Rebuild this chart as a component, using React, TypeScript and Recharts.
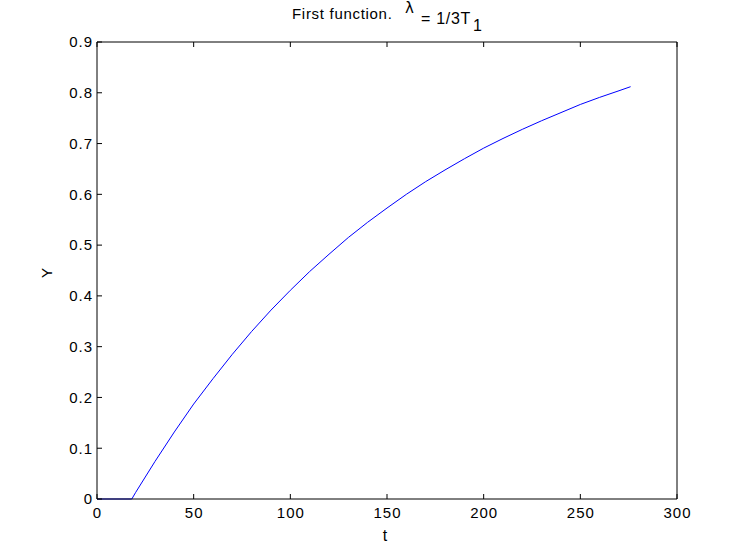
import React from 'react';
import { LineChart, Line, XAxis, YAxis } from 'recharts';

const tValues = [0, 18, 20, 30, 40, 50, 60, 70, 80, 90, 100, 110, 120, 130, 140, 150, 160, 170, 180, 190, 200, 210, 220, 230, 240, 250, 260, 270, 276];
const yValues = [0, 0, 0.013, 0.074, 0.132, 0.187, 0.237, 0.285, 0.33, 0.372, 0.411, 0.448, 0.482, 0.515, 0.545, 0.573, 0.6, 0.625, 0.648, 0.67, 0.691, 0.71, 0.728, 0.745, 0.761, 0.777, 0.791, 0.804, 0.812];
const xTicks = [0, 50, 100, 150, 200, 250, 300];
const yTicks = [0, 0.1, 0.2, 0.3, 0.4, 0.5, 0.6, 0.7, 0.8, 0.9];
const yTickLabels = ['0', '0.1', '0.2', '0.3', '0.4', '0.5', '0.6', '0.7', '0.8', '0.9'];

const data = tValues.map((t, i) => ({ t, y: yValues[i] }));

const FONT = '"Liberation Sans", Arial, sans-serif';
const TICK_LEN = 5;
const LEFT_MARGIN = 4;
const BOTTOM_MARGIN = 8;

const LeftTick = (props: any) => {
  const { x, y, payload } = props;
  const ax = x + LEFT_MARGIN;
  const idx = yTicks.indexOf(payload.value);
  const label = idx >= 0 ? yTickLabels[idx] : String(payload.value);
  return (
    <g>
      <line x1={ax} x2={ax + TICK_LEN} y1={y} y2={y} stroke="#000" strokeWidth={1} />
      <text x={x} y={y} dy="0.355em" textAnchor="end" fontFamily={FONT} fontSize={15} letterSpacing={1} fill="#000">
        {label}
      </text>
    </g>
  );
};

const BottomTick = (props: any) => {
  const { x, y, payload } = props;
  const ay = y - BOTTOM_MARGIN;
  return (
    <g>
      <line x1={x} x2={x} y1={ay} y2={ay - TICK_LEN} stroke="#000" strokeWidth={1} />
      <text x={x + 0.5} y={y} dy="0.71em" textAnchor="middle" fontFamily={FONT} fontSize={15} letterSpacing={1} fill="#000">
        {String(payload.value)}
      </text>
    </g>
  );
};

const TopTick = (props: any) => {
  const { x, y } = props;
  return <line x1={x} x2={x} y1={y} y2={y + TICK_LEN} stroke="#000" strokeWidth={1} />;
};

const RightTick = (props: any) => {
  const { x, y } = props;
  return <line x1={x} x2={x - TICK_LEN} y1={y} y2={y} stroke="#000" strokeWidth={1} />;
};

export default function App() {
  return (
    <div style={{ position: 'absolute', left: 0, top: 0, width: 747, height: 560, background: '#fff' }}>
      <LineChart
        width={747}
        height={560}
        data={data}
        margin={{ top: 41, right: 69, bottom: 31, left: 47 }}
      >
        <XAxis
          xAxisId="b"
          dataKey="t"
          type="number"
          domain={[0, 300]}
          ticks={xTicks}
          height={30}
          stroke="#000"
          tickLine={false}
          tickSize={0}
          tickMargin={BOTTOM_MARGIN}
          tick={BottomTick}
          interval={0}
        />
        <XAxis
          xAxisId="top"
          orientation="top"
          dataKey="t"
          type="number"
          domain={[0, 300]}
          ticks={xTicks}
          height={1}
          stroke="#000"
          tickLine={false}
          tickSize={0}
          tickMargin={0}
          tick={TopTick}
          interval={0}
        />
        <YAxis
          yAxisId="l"
          type="number"
          domain={[0, 0.9]}
          ticks={yTicks}
          width={50}
          stroke="#000"
          tickLine={false}
          tickSize={0}
          tickMargin={LEFT_MARGIN}
          tick={LeftTick}
          interval={0}
        />
        <YAxis
          yAxisId="r"
          orientation="right"
          type="number"
          domain={[0, 0.9]}
          ticks={yTicks}
          width={1}
          stroke="#000"
          tickLine={false}
          tickSize={0}
          tickMargin={0}
          tick={RightTick}
          interval={0}
        />
        <Line
          xAxisId="b"
          yAxisId="l"
          dataKey="y"
          type="linear"
          stroke="#0000ff"
          strokeWidth={1}
          dot={false}
          isAnimationActive={false}
        />
      </LineChart>
      <svg width={747} height={560} style={{ position: 'absolute', left: 0, top: 0, pointerEvents: 'none' }}>
        <text fontFamily={FONT} fill="#000" letterSpacing={0.7}>
          <tspan x={292} y={19} fontSize={15}>First function.</tspan>
          <tspan x={405} y={13} fontSize={15} fontFamily='"DejaVu Sans", sans-serif' letterSpacing={0}>λ</tspan>
          <tspan x={421} y={24} fontSize={16}>= 1/3T</tspan>
          <tspan x={473} y={31} fontSize={16}>1</tspan>
        </text>
        <text x={385} y={541} textAnchor="middle" fontFamily={FONT} fontSize={16} fill="#000">t</text>
        <text x={52} y={273} textAnchor="middle" fontFamily={FONT} fontSize={15} fill="#000" transform="rotate(-90 52 273)">Y</text>
      </svg>
    </div>
  );
}
